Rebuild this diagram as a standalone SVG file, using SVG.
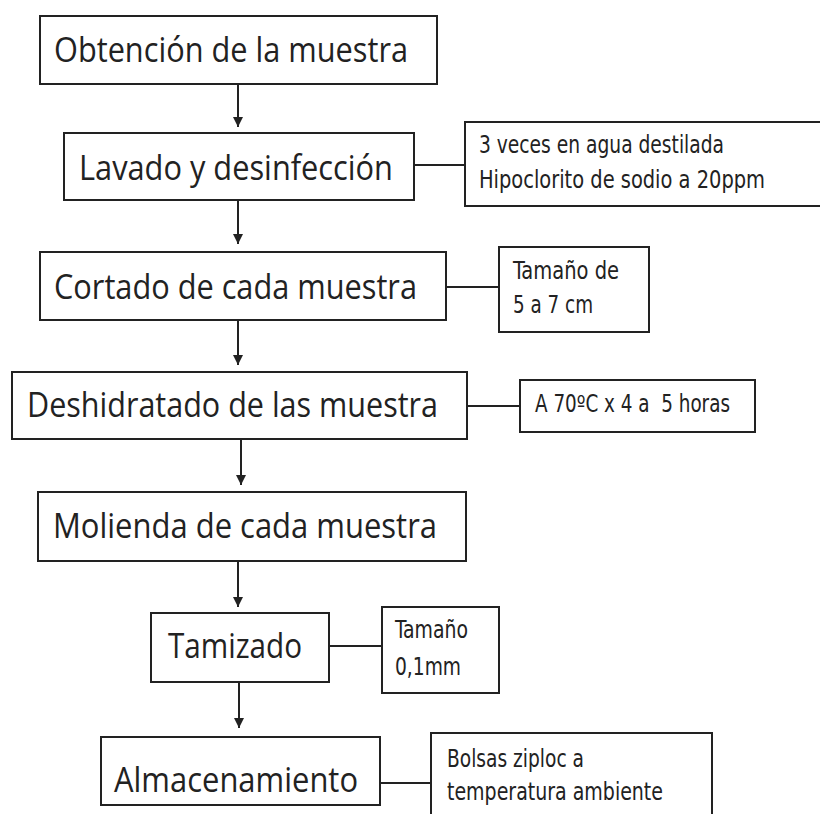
<svg xmlns="http://www.w3.org/2000/svg" width="820" height="814" viewBox="0 0 820 814">
<style>
.box{fill:#fff;stroke:#222;stroke-width:2}
.main{font-family:"Open Sans","Liberation Sans",sans-serif;font-size:35px;fill:#222}
.side{font-family:"DejaVu Sans Condensed","Open Sans","Liberation Sans",sans-serif;font-size:24px;fill:#222;white-space:pre}
.conn line{stroke:#222;stroke-width:2}
</style>
<defs>
<marker id="arr" viewBox="0 0 10 10" refX="10" refY="5" markerWidth="10" markerHeight="10" markerUnits="userSpaceOnUse" orient="auto">
<path d="M0,0 L10,5 L0,10 Z" fill="#222"/>
</marker>
</defs>
<rect width="820" height="814" fill="#fff"/>
<g id="connectors" class="conn">
<line x1="238" y1="84" x2="238" y2="127" marker-end="url(#arr)"/>
<line x1="238" y1="200" x2="238" y2="244" marker-end="url(#arr)"/>
<line x1="238" y1="321" x2="238" y2="365" marker-end="url(#arr)"/>
<line x1="241" y1="440" x2="241" y2="485" marker-end="url(#arr)"/>
<line x1="238" y1="562" x2="238" y2="607" marker-end="url(#arr)"/>
<line x1="239" y1="683" x2="239" y2="728" marker-end="url(#arr)"/>
<line x1="414" y1="165" x2="465" y2="165"/>
<line x1="446" y1="287" x2="499" y2="287"/>
<line x1="467" y1="406" x2="520" y2="406"/>
<line x1="329" y1="646" x2="382" y2="646"/>
<line x1="380" y1="783" x2="431" y2="783"/>
</g>
<g id="n1"><rect class="box" x="40" y="16" width="397" height="68"/><text class="main" x="54" y="62" textLength="354" lengthAdjust="spacingAndGlyphs">Obtención de la muestra</text></g>
<g id="n2"><rect class="box" x="64" y="133" width="350" height="67"/><text class="main" x="79" y="180" textLength="314" lengthAdjust="spacingAndGlyphs">Lavado y desinfección</text></g>
<g id="s1"><rect class="box" x="465" y="122" width="365" height="84"/><text class="side" x="479" y="153" textLength="245" lengthAdjust="spacingAndGlyphs">3 veces en agua destilada</text><text class="side" x="479" y="188" textLength="286" lengthAdjust="spacingAndGlyphs">Hipoclorito de sodio a 20ppm</text></g>
<g id="n3"><rect class="box" x="40" y="252" width="406" height="68"/><text class="main" x="54" y="299" textLength="363" lengthAdjust="spacingAndGlyphs">Cortado de cada muestra</text></g>
<g id="s2"><rect class="box" x="499" y="247" width="150" height="85"/><text class="side" x="513" y="279" textLength="106" lengthAdjust="spacingAndGlyphs">Tamaño de</text><text class="side" x="513" y="313" textLength="80" lengthAdjust="spacingAndGlyphs">5 a 7 cm</text></g>
<g id="n4"><rect class="box" x="12" y="372" width="455" height="67"/><text class="main" x="27" y="417" textLength="411" lengthAdjust="spacingAndGlyphs">Deshidratado de las muestra</text></g>
<g id="s3"><rect class="box" x="520" y="380" width="235" height="52"/><text class="side" x="535" y="412" textLength="195" lengthAdjust="spacingAndGlyphs" xml:space="preserve">A 70ºC x 4 a  5 horas</text></g>
<g id="n5"><rect class="box" x="38" y="492" width="428" height="69"/><text class="main" x="53" y="538" textLength="384" lengthAdjust="spacingAndGlyphs">Molienda de cada muestra</text></g>
<g id="n6"><rect class="box" x="151" y="613" width="178" height="69"/><text class="main" x="168" y="658" textLength="134" lengthAdjust="spacingAndGlyphs">Tamizado</text></g>
<g id="s4"><rect class="box" x="382" y="607" width="117" height="86"/><text class="side" x="395" y="638" textLength="73" lengthAdjust="spacingAndGlyphs">Tamaño</text><text class="side" x="395" y="675" textLength="66" lengthAdjust="spacingAndGlyphs">0,1mm</text></g>
<g id="n7"><rect class="box" x="101" y="737" width="279" height="68"/><text class="main" x="114" y="792" textLength="244" lengthAdjust="spacingAndGlyphs">Almacenamiento</text></g>
<g id="s5"><rect class="box" x="431" y="733" width="281" height="100"/><text class="side" x="447" y="767" textLength="137" lengthAdjust="spacingAndGlyphs">Bolsas ziploc a</text><text class="side" x="447" y="800" textLength="216" lengthAdjust="spacingAndGlyphs">temperatura ambiente</text></g>
</svg>
